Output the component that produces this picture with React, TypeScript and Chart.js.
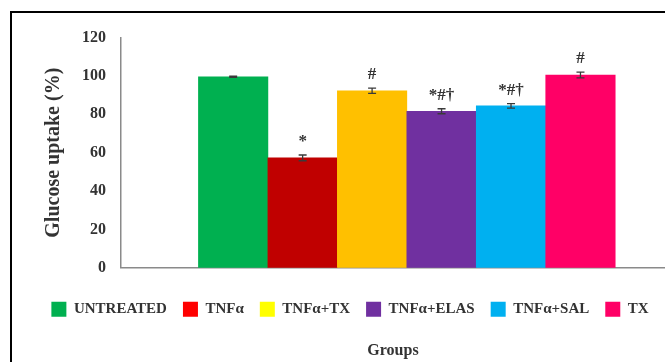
import React, { useEffect, useRef } from 'react';
import { Chart, registerables } from 'chart.js';

Chart.register(...registerables);

const groups = ['UNTREATED', 'TNFα', 'TNFα+TX', 'TNFα+ELAS', 'TNFα+SAL', 'TX'];
const uptake = [99.6, 57.3, 92.3, 81.6, 84.4, 100.5];
const sem = [0.3, 1.5, 1.4, 1.3, 1.2, 1.5];
const marks = ['', '*', '#', '*#†', '*#†', '#'];
const barColors = ['#00B050', '#C00000', '#FFC000', '#7030A0', '#00B0F0', '#FF0066'];
const legendColors = ['#00B050', '#FF0000', '#FFFF00', '#7030A0', '#00B0F0', '#FF0066'];
const yTicks = [0, 20, 40, 60, 80, 100, 120];

const SERIF = "'Liberation Serif', 'Times New Roman', serif";
const TEXT = '#333333';

const errorBarPlugin = {
  id: 'errorBars',
  afterDatasetsDraw(chart: any) {
    const { ctx, scales } = chart;
    const x = scales.x;
    const y = scales.y;
    ctx.save();
    uptake.forEach((v, i) => {
      const px = x.getPixelForValue(i);
      const top = y.getPixelForValue(v + sem[i]);
      const bot = y.getPixelForValue(v - sem[i]);
      ctx.strokeStyle = '#3a3a3a';
      ctx.lineWidth = 1.3;
      ctx.beginPath();
      ctx.moveTo(px, top);
      ctx.lineTo(px, bot);
      ctx.moveTo(px - 4, top);
      ctx.lineTo(px + 4, top);
      ctx.moveTo(px - 4, bot);
      ctx.lineTo(px + 4, bot);
      ctx.stroke();
      if (marks[i]) {
        ctx.fillStyle = TEXT;
        ctx.font = `bold 17px ${SERIF}`;
        ctx.textAlign = 'center';
        ctx.textBaseline = 'alphabetic';
        ctx.fillText(marks[i], px, top - 9);
      }
    });
    ctx.restore();
  },
};

export default function App() {
  const ref = useRef<HTMLCanvasElement | null>(null);

  useEffect(() => {
    if (!ref.current) return;
    const chart = new Chart(ref.current, {
      type: 'bar',
      data: {
        labels: groups,
        datasets: [
          {
            label: 'Glucose uptake',
            data: groups.map((g, i) => ({ x: i, y: uptake[i] })),
            backgroundColor: barColors,
            borderWidth: 0,
            barPercentage: 1,
            categoryPercentage: 1,
          },
        ],
      },
      options: {
        animation: false,
        responsive: false,
        maintainAspectRatio: false,
        layout: { padding: { left: 23, top: 23, right: 0, bottom: 1 } },
        scales: {
          x: {
            type: 'linear',
            min: -1.615,
            max: 6.217,
            offset: false,
            ticks: { display: false },
            grid: { display: false, drawTicks: false },
            border: { display: true, color: '#8a8a8a', width: 1.5 },
            afterFit: (s: any) => {
              s.height = 18;
            },
          },
          y: {
            min: 0,
            max: 120,
            afterBuildTicks: (s: any) => {
              s.ticks = yTicks.map((v) => ({ value: v }));
            },
            ticks: {
              padding: 15,
              color: TEXT,
              font: { family: SERIF, size: 16, weight: 'bold' },
            },
            grid: { display: false, drawTicks: false },
            border: { display: true, color: '#8a8a8a', width: 1.5 },
            title: {
              display: true,
              text: 'Glucose uptake (%)',
              color: TEXT,
              font: { family: SERIF, size: 20, weight: 'bold' },
              padding: { top: 7, bottom: 1 },
            },
          },
        },
        plugins: {
          tooltip: { enabled: false },
          legend: {
            position: 'bottom',
            labels: {
              boxWidth: 15,
              boxHeight: 15,
              padding: 16,
              color: TEXT,
              font: { family: SERIF, size: 15, weight: 'bold' },
              generateLabels: () =>
                groups.map((g, i) => ({
                  text: g,
                  fillStyle: legendColors[i],
                  strokeStyle: legendColors[i],
                  lineWidth: 0,
                  hidden: false,
                  index: i,
                  datasetIndex: 0,
                  fontColor: TEXT,
                })),
            },
          },
          title: {
            display: true,
            text: 'Groups',
            position: 'bottom',
            fullSize: false,
            color: TEXT,
            font: { family: SERIF, size: 16, weight: 'bold' },
            padding: { top: 14, bottom: 1 },
          },
        },
      } as any,
      plugins: [errorBarPlugin],
    });
    return () => chart.destroy();
  }, []);

  return (
    <div
      style={{
        position: 'fixed',
        left: 0,
        top: 0,
        width: 665,
        height: 362,
        overflow: 'hidden',
        background: '#fff',
      }}
    >
      <div
        style={{
          position: 'absolute',
          left: 10,
          top: 11,
          width: 700,
          height: 400,
          borderLeft: '2px solid #000',
          borderTop: '2px solid #000',
        }}
      />
      <canvas ref={ref} width={653} height={349} style={{ position: 'absolute', left: 12, top: 13 }} />
    </div>
  );
}
